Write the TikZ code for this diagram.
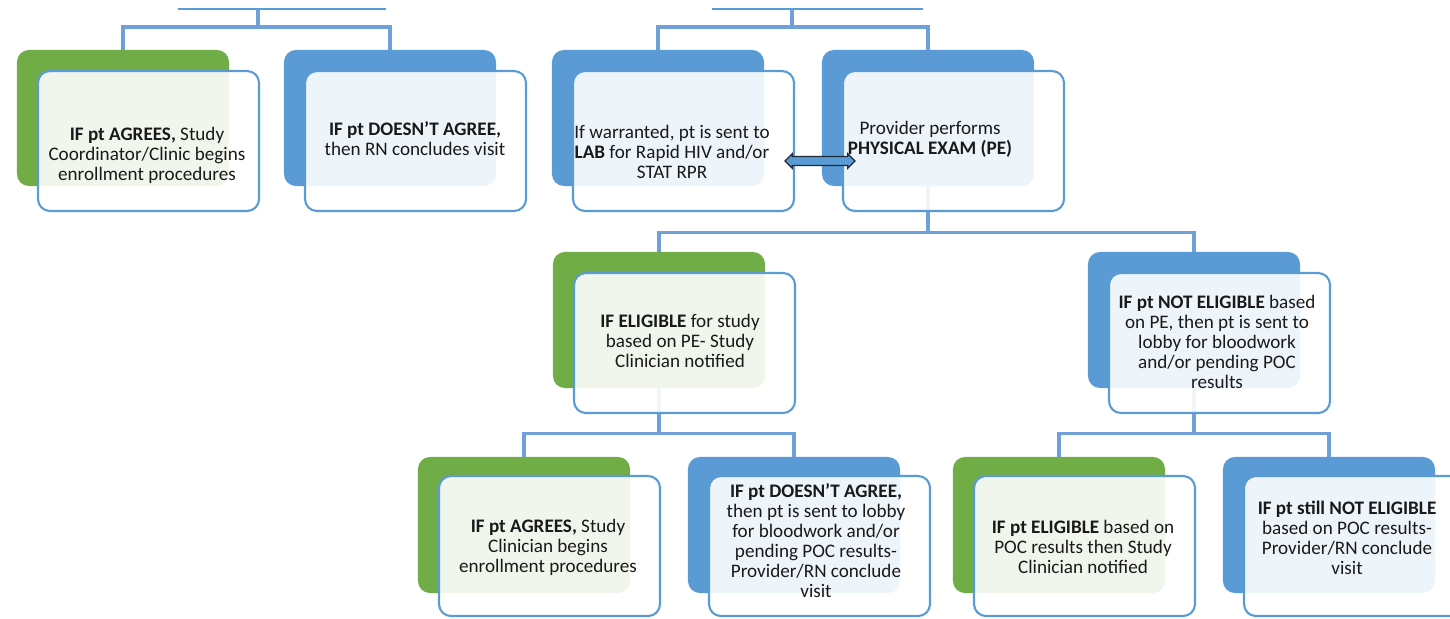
\documentclass[tikz,border=0pt]{standalone}
\usepackage{fontspec}
\setmainfont{Carlito}
\usetikzlibrary{shapes.arrows}

\definecolor{boxgreen}{HTML}{70AD47}
\definecolor{boxblue}{HTML}{5B9BD5}
\definecolor{linkblue}{HTML}{6FA1D8}
\definecolor{arrowdark}{HTML}{1F2A36}

\begin{document}
\begin{tikzpicture}[x=0.025cm, y=-0.025cm,
  back/.style={rounded corners=0.3cm, minimum width=5.3cm, minimum height=3.4cm, inner sep=0},
  greenback/.style={back, fill=boxgreen},
  blueback/.style={back, fill=boxblue},
  front/.style={draw=boxblue, line width=1.5pt, rounded corners=0.3cm, fill=white, fill opacity=0.9,
                minimum width=5.525cm, minimum height=3.5cm, inner sep=0},
  txt/.style={align=center, inner sep=0, text=black!90, font=\fontsize{13.6}{14.2}\selectfont},
  conn/.style={draw=linkblue, line width=2.2pt},
  link/.style={double arrow, draw=arrowdark, fill=boxblue, line width=0.9pt, minimum height=1.75cm,
               inner sep=0.095cm, double arrow head extend=0.07cm, double arrow head indent=0cm}]

  \useasboundingbox (0,0) rectangle (1450,618);

  % Back boxes
  \draw (123 ,118) node(B1)  [greenback] {};
  \draw (390 ,118) node(B2)  [blueback]  {};
  \draw (658 ,118) node(B3)  [blueback]  {};
  \draw (928 ,118) node(B4)  [blueback]  {};
  \draw (659 ,320) node(B5)  [greenback] {};
  \draw (1194,320) node(B6)  [blueback]  {};
  \draw (524 ,525) node(B7)  [greenback] {};
  \draw (794 ,525) node(B8)  [blueback]  {};
  \draw (1059,525) node(B9)  [greenback] {};
  \draw (1329,525) node(B10) [blueback]  {};

  % Edges
  \draw[boxblue, line width=2pt] (178,9) -- (386,9);
  \draw[boxblue, line width=2pt] (712,9) -- (923,9);
  \coordinate (P1) at (258,9);
  \coordinate (P2) at (792,9);
  \path[conn] (P1) -- ++(0,18) -| (B1.north);
  \path[conn] (P1) -- ++(0,18) -| (B2.north);
  \path[conn] (P2) -- ++(0,18) -| (B3.north);
  \path[conn] (P2) -- ++(0,18) -| (B4.north);
  \path[conn] (B4.south) -- ++(0,46) -| (B5.north);
  \path[conn] (B4.south) -- ++(0,46) -| (B6.north);
  \path[conn] (B5.south) -- ++(0,45) -| (B7.north);
  \path[conn] (B5.south) -- ++(0,45) -| (B8.north);
  \path[conn] (B6.south) -- ++(0,45) -| (B9.north);
  \path[conn] (B6.south) -- ++(0,45) -| (B10.north);

  % Front boxes
  \draw (148.5 ,141) node(F1)  [front] {};
  \draw (415.5 ,141) node(F2)  [front] {};
  \draw (683.5 ,141) node(F3)  [front] {};
  \draw (953.5 ,141) node(F4)  [front] {};
  \draw (684.5 ,343) node(F5)  [front] {};
  \draw (1219.5,343) node(F6)  [front] {};
  \draw (549.5 ,546) node(F7)  [front] {};
  \draw (819.5 ,546) node(F8)  [front] {};
  \draw (1084.5,546) node(F9)  [front] {};
  \draw (1354.5,546) node(F10) [front] {};

  % Texts
  \draw (147 ,155) node(T1)  [txt] {\textbf{IF pt AGREES,} Study\\Coordinator/Clinic begins\\enrollment procedures};
  \draw (415 ,139) node(T2)  [txt] {\textbf{IF pt DOESN'T AGREE,}\\then RN concludes visit};
  \draw (672 ,152) node(T3)  [txt] {If warranted, pt is sent to\\\textbf{LAB} for Rapid HIV and/or\\STAT RPR};
  \draw (930 ,139) node(T4)  [txt] {Provider performs\\\textbf{PHYSICAL EXAM (PE)}};
  \draw (680 ,341) node(T5)  [txt] {\textbf{IF ELIGIBLE} for study\\based on PE- Study\\Clinician notified};
  \draw (1217,342) node(T6)  [txt] {\textbf{IF pt NOT ELIGIBLE} based\\on PE, then pt is sent to\\lobby for bloodwork\\and/or pending POC\\results};
  \draw (548 ,547) node(T7)  [txt] {\textbf{IF pt AGREES,} Study\\Clinician begins\\enrollment procedures};
  \draw (816 ,541) node(T8)  [txt] {\textbf{IF pt DOESN'T AGREE,}\\then pt is sent to lobby\\for bloodwork and/or\\pending POC results-\\Provider/RN conclude\\visit};
  \draw (1083,547) node(T9)  [txt] {\textbf{IF pt ELIGIBLE} based on\\POC results then Study\\Clinician notified};
  \draw (1347,538) node(T10) [txt] {\textbf{IF pt still NOT ELIGIBLE}\\based on POC results-\\Provider/RN conclude\\visit};

  % Lab <-> exam
  \draw (820,161) node(L) [link] {};
\end{tikzpicture}
\end{document}
